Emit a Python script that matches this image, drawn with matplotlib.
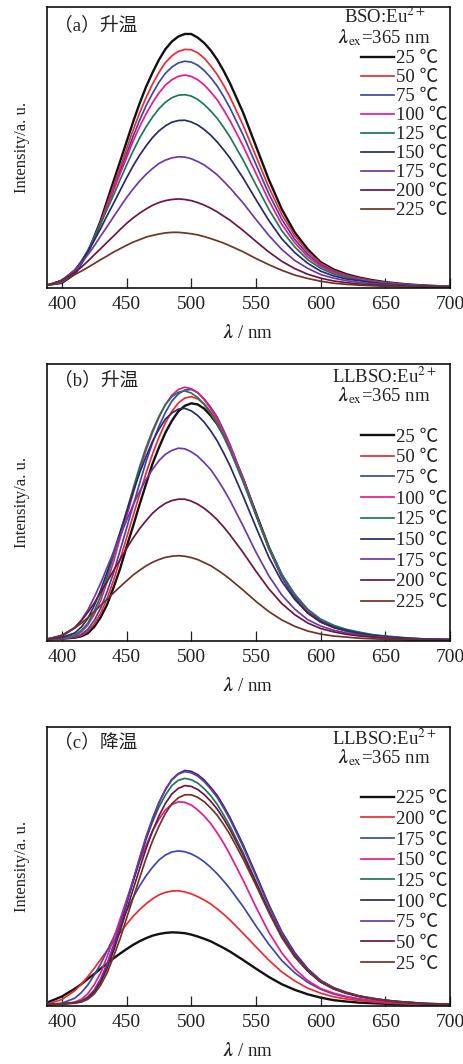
import matplotlib
matplotlib.use('Agg')
import matplotlib.pyplot as plt

plt.rcParams['font.family'] = ['Liberation Serif', 'Noto Sans CJK SC', 'DejaVu Sans']
plt.rcParams['mathtext.fontset'] = 'stix'

# ---------------- data ----------------
wavelength = [390, 400, 410, 415, 420, 425, 430, 435, 440, 445, 450, 455, 460, 465, 470, 475,
              480, 485, 490, 495, 500, 505, 510, 515, 520, 525, 530, 540, 550, 560, 570, 580,
              590, 600, 610, 620, 630, 640, 650, 660, 670, 680, 690, 700]

# (a) BSO:Eu2+, heating
a_25 = [1.2, 1.8, 5.0, 8.8, 12.5, 18.2, 24.0, 31.1, 38.1, 45.0, 52.0, 59.0, 65.6, 71.5, 76.6, 81.2, 85.0, 87.7, 89.5, 90.4, 90.4, 89.1, 87.2, 84.6, 81.3, 77.3, 72.8, 62.5, 50.5, 38.5, 28.0, 19.8, 13.8, 9.2, 6.6, 4.9, 3.7, 2.8, 2.1, 1.6, 1.2, 0.9, 0.7, 0.5]
a_50 = [1.1, 2.0, 5.4, 8.6, 12.6, 17.7, 23.4, 29.9, 36.4, 43.0, 49.5, 56.1, 62.2, 67.7, 72.5, 76.7, 80.2, 82.6, 84.2, 84.9, 84.8, 83.7, 81.8, 79.1, 76.0, 72.2, 67.9, 58.0, 46.9, 35.8, 26.1, 18.6, 12.9, 8.8, 6.2, 4.6, 3.5, 2.6, 2.0, 1.5, 1.1, 0.9, 0.7, 0.6]
a_75 = [1.1, 2.0, 5.4, 8.5, 12.4, 17.3, 22.8, 28.9, 35.2, 41.5, 47.7, 53.9, 59.6, 64.8, 69.2, 73.2, 76.4, 78.6, 80.1, 80.7, 80.4, 79.3, 77.4, 74.9, 71.9, 68.2, 64.0, 54.5, 44.0, 33.5, 24.4, 17.3, 12.0, 8.2, 5.8, 4.3, 3.3, 2.4, 1.9, 1.4, 1.1, 0.8, 0.6, 0.6]
a_100 = [1.1, 2.3, 5.9, 9.2, 13.0, 18.0, 23.1, 29.0, 34.8, 40.6, 46.3, 52.2, 57.3, 61.9, 65.9, 69.4, 72.2, 74.1, 75.3, 75.8, 75.3, 74.1, 72.3, 69.8, 67.0, 63.4, 59.5, 50.6, 40.8, 31.1, 22.6, 16.1, 11.1, 7.7, 5.5, 4.0, 3.1, 2.3, 1.7, 1.4, 1.0, 0.8, 0.6, 0.5]
a_125 = [1.1, 2.5, 6.4, 9.5, 13.4, 17.9, 22.9, 28.1, 33.1, 38.5, 43.7, 48.7, 53.3, 57.3, 60.8, 63.8, 66.1, 67.7, 68.6, 68.8, 68.3, 67.1, 65.3, 63.0, 60.4, 57.2, 53.7, 45.6, 36.7, 28.0, 20.4, 14.6, 10.1, 7.0, 5.0, 3.7, 2.8, 2.1, 1.6, 1.2, 1.0, 0.8, 0.6, 0.5]
a_150 = [1.1, 2.6, 6.4, 9.3, 12.9, 16.9, 21.2, 25.8, 30.2, 34.7, 39.2, 43.4, 47.2, 50.5, 53.5, 55.9, 57.7, 59.0, 59.6, 59.7, 59.1, 58.0, 56.4, 54.4, 52.0, 49.2, 46.2, 39.2, 31.5, 24.0, 17.5, 12.6, 8.8, 6.0, 4.3, 3.2, 2.6, 1.9, 1.4, 1.1, 0.8, 0.7, 0.5, 0.4]
a_175 = [1.1, 2.8, 6.4, 8.9, 11.8, 15.0, 18.5, 21.9, 25.4, 28.8, 32.2, 35.2, 38.0, 40.4, 42.5, 44.3, 45.5, 46.3, 46.7, 46.6, 46.0, 45.0, 43.8, 42.1, 40.3, 38.0, 35.6, 30.3, 24.4, 18.7, 13.7, 9.8, 7.0, 4.8, 3.5, 2.6, 2.0, 1.5, 1.2, 0.9, 0.7, 0.5, 0.4, 0.3]
a_200 = [1.1, 2.7, 5.5, 7.4, 9.5, 11.8, 14.0, 16.3, 18.5, 20.8, 23.0, 24.9, 26.6, 28.1, 29.4, 30.4, 31.1, 31.5, 31.7, 31.5, 31.1, 30.4, 29.5, 28.4, 27.1, 25.6, 24.1, 20.5, 16.6, 12.8, 9.5, 6.9, 4.9, 3.5, 2.5, 1.9, 1.4, 1.1, 0.9, 0.7, 0.5, 0.4, 0.3, 0.3]
a_225 = [1.2, 2.7, 4.8, 6.0, 7.3, 8.7, 10.1, 11.4, 12.8, 14.0, 15.2, 16.3, 17.2, 18.1, 18.7, 19.2, 19.6, 19.8, 19.8, 19.6, 19.3, 18.9, 18.3, 17.6, 16.8, 16.0, 15.0, 12.9, 10.5, 8.3, 6.3, 4.6, 3.4, 2.4, 1.7, 1.3, 1.0, 0.8, 0.6, 0.5, 0.4, 0.3, 0.2, 0.2]

# (b) LLBSO:Eu2+, heating
b_25 = [0.6, 0.8, 1.2, 1.7, 2.8, 5.1, 8.6, 13.2, 19.4, 26.1, 34.0, 41.4, 49.2, 56.6, 63.9, 69.8, 75.2, 79.5, 82.9, 84.9, 85.8, 85.4, 83.9, 81.4, 78.3, 74.4, 69.6, 58.7, 46.2, 33.9, 23.7, 16.0, 10.5, 7.0, 5.0, 3.7, 2.7, 1.9, 1.5, 1.0, 0.8, 0.6, 0.5, 0.4]
b_50 = [0.7, 0.8, 1.4, 2.0, 3.5, 6.1, 10.1, 15.4, 22.0, 29.5, 37.2, 45.1, 52.8, 60.5, 67.4, 73.5, 78.7, 82.9, 85.9, 87.7, 88.2, 87.4, 85.6, 82.8, 79.4, 75.1, 70.0, 58.5, 45.5, 33.3, 23.1, 15.5, 10.1, 6.8, 4.9, 3.6, 2.6, 1.9, 1.4, 1.1, 0.8, 0.6, 0.5, 0.4]
b_75 = [0.7, 0.9, 1.5, 2.4, 4.2, 7.4, 11.9, 17.8, 24.7, 32.7, 40.7, 48.8, 56.8, 64.6, 71.5, 77.5, 82.5, 86.6, 89.2, 90.6, 90.8, 89.7, 87.4, 84.4, 80.9, 76.1, 70.9, 58.9, 45.7, 33.3, 23.1, 15.5, 10.3, 6.9, 5.0, 3.7, 2.7, 2.0, 1.5, 1.1, 0.8, 0.6, 0.5, 0.5]
b_100 = [0.7, 1.0, 1.9, 3.3, 5.7, 9.6, 14.6, 21.4, 28.7, 37.1, 44.9, 53.1, 61.5, 68.8, 75.2, 80.7, 85.4, 88.7, 90.8, 91.6, 91.1, 89.6, 87.1, 83.9, 80.1, 75.4, 70.3, 58.5, 45.7, 33.7, 23.8, 16.7, 11.0, 7.5, 5.4, 4.0, 3.0, 2.2, 1.6, 1.3, 0.9, 0.7, 0.6, 0.5]
b_125 = [0.8, 1.1, 2.2, 3.8, 6.4, 10.8, 16.3, 23.2, 30.8, 38.9, 46.9, 54.9, 62.8, 69.8, 75.9, 81.1, 85.3, 88.2, 89.8, 90.3, 89.5, 87.9, 85.4, 82.1, 78.4, 73.8, 68.8, 57.5, 45.4, 33.7, 24.1, 16.9, 11.5, 7.9, 5.7, 4.2, 3.2, 2.3, 1.8, 1.4, 1.0, 0.8, 0.6, 0.5]
b_150 = [0.8, 1.3, 2.9, 5.0, 8.1, 12.8, 18.4, 24.9, 32.2, 39.3, 46.5, 53.7, 60.6, 66.5, 72.0, 76.4, 80.1, 82.3, 83.7, 84.0, 83.1, 81.4, 79.0, 75.9, 72.3, 67.9, 63.2, 52.4, 41.1, 30.2, 21.5, 15.0, 10.1, 7.0, 5.0, 3.8, 2.8, 2.0, 1.6, 1.2, 0.9, 0.7, 0.6, 0.5]
b_175 = [0.9, 1.7, 4.7, 7.5, 11.1, 15.8, 20.9, 26.6, 32.2, 37.9, 43.5, 49.1, 53.9, 58.3, 61.9, 65.1, 67.4, 68.8, 69.6, 69.4, 68.3, 66.7, 64.4, 61.9, 58.5, 54.8, 50.7, 41.6, 32.1, 23.5, 16.6, 11.5, 7.7, 5.4, 3.9, 2.9, 2.2, 1.6, 1.3, 0.9, 0.7, 0.6, 0.5, 0.4]
b_200 = [0.8, 1.9, 4.9, 7.3, 10.3, 13.7, 17.6, 21.5, 25.5, 29.4, 33.4, 37.1, 40.5, 43.4, 46.1, 48.1, 49.7, 50.7, 51.2, 51.2, 50.5, 49.4, 47.9, 46.0, 43.8, 41.2, 38.3, 32.0, 25.2, 18.8, 13.5, 9.5, 6.5, 4.5, 3.3, 2.4, 1.8, 1.4, 1.0, 0.8, 0.6, 0.5, 0.4, 0.3]
b_225 = [0.8, 2.1, 4.7, 6.4, 8.4, 10.6, 12.9, 15.1, 17.4, 19.6, 21.7, 23.8, 25.5, 27.1, 28.4, 29.4, 30.2, 30.6, 30.8, 30.6, 30.1, 29.4, 28.3, 27.2, 25.7, 24.1, 22.3, 18.4, 14.3, 10.6, 7.6, 5.3, 3.6, 2.5, 1.8, 1.4, 1.0, 0.8, 0.6, 0.5, 0.3, 0.3, 0.2, 0.2]

# (c) LLBSO:Eu2+, cooling
c_225 = [1.5, 3.4, 6.2, 7.8, 9.7, 11.5, 13.4, 15.2, 17.1, 18.8, 20.4, 21.9, 23.2, 24.3, 25.2, 25.8, 26.2, 26.4, 26.3, 26.1, 25.6, 24.9, 24.1, 23.2, 22.0, 20.8, 19.5, 16.5, 13.4, 10.4, 7.8, 5.8, 4.2, 3.0, 2.1, 1.6, 1.2, 1.0, 0.8, 0.6, 0.5, 0.4, 0.3, 0.2]
c_200 = [0.9, 2.3, 5.5, 7.8, 10.5, 13.5, 16.7, 19.9, 23.1, 26.3, 29.3, 32.1, 34.5, 36.6, 38.4, 39.8, 40.7, 41.2, 41.3, 40.9, 40.2, 39.2, 38.0, 36.6, 34.8, 32.9, 30.8, 26.1, 21.2, 16.4, 12.2, 9.0, 6.4, 4.6, 3.3, 2.5, 1.9, 1.5, 1.1, 0.9, 0.7, 0.5, 0.4, 0.3]
c_175 = [0.6, 1.0, 2.8, 4.8, 7.5, 11.1, 15.1, 19.8, 24.6, 29.4, 34.1, 38.8, 43.0, 46.6, 49.7, 52.3, 54.1, 55.2, 55.6, 55.3, 54.5, 53.3, 51.7, 49.7, 47.4, 44.8, 42.0, 35.7, 28.7, 22.1, 16.3, 11.9, 8.5, 6.0, 4.3, 3.2, 2.4, 1.9, 1.4, 1.1, 0.9, 0.7, 0.5, 0.4]
c_150 = [0.6, 0.8, 1.4, 2.4, 4.4, 7.6, 11.9, 17.7, 24.2, 31.1, 38.0, 44.9, 51.6, 57.5, 62.7, 66.9, 70.3, 72.2, 73.2, 73.0, 72.0, 70.3, 68.1, 65.4, 62.1, 58.4, 54.2, 45.2, 35.5, 26.4, 19.0, 13.3, 9.1, 6.3, 4.6, 3.4, 2.6, 1.9, 1.5, 1.2, 0.9, 0.7, 0.5, 0.5]
c_125 = [0.5, 0.8, 1.2, 1.8, 3.3, 5.7, 9.7, 15.2, 21.8, 29.2, 37.0, 44.6, 52.2, 59.6, 65.9, 71.3, 75.6, 79.0, 80.9, 81.6, 81.1, 79.9, 77.9, 75.4, 72.3, 68.5, 64.4, 55.0, 44.6, 34.1, 25.1, 17.9, 12.6, 8.6, 6.2, 4.6, 3.4, 2.6, 2.0, 1.6, 1.1, 0.9, 0.7, 0.6]
c_100 = [0.5, 0.8, 1.2, 1.7, 3.0, 5.3, 9.0, 14.4, 21.1, 28.7, 36.6, 44.6, 52.5, 60.2, 66.8, 72.8, 77.6, 81.2, 83.3, 84.4, 84.1, 82.9, 81.0, 78.4, 75.5, 71.7, 67.5, 57.9, 47.2, 36.3, 26.6, 19.1, 13.4, 9.2, 6.6, 4.9, 3.6, 2.8, 2.1, 1.6, 1.3, 0.9, 0.8, 0.6]
c_75 = [0.6, 0.8, 1.2, 1.8, 3.1, 5.5, 9.6, 15.0, 21.7, 29.3, 37.3, 45.1, 53.0, 60.6, 67.2, 72.9, 77.5, 81.0, 83.1, 84.0, 83.6, 82.4, 80.4, 77.8, 74.8, 71.0, 66.8, 57.1, 46.5, 35.6, 26.1, 18.6, 13.2, 9.1, 6.5, 4.8, 3.6, 2.7, 2.1, 1.6, 1.3, 0.9, 0.8, 0.6]
c_50 = [0.5, 0.7, 1.1, 1.6, 2.8, 5.0, 8.5, 13.5, 19.8, 26.9, 34.3, 41.7, 49.1, 56.3, 62.6, 68.1, 72.6, 76.0, 78.0, 79.0, 78.7, 77.6, 75.8, 73.4, 70.6, 67.1, 63.2, 54.2, 44.2, 34.0, 24.9, 17.9, 12.6, 8.6, 6.2, 4.6, 3.4, 2.6, 2.0, 1.5, 1.2, 0.9, 0.7, 0.6]
c_25 = [0.5, 0.7, 1.0, 1.4, 2.4, 4.3, 7.5, 11.9, 17.8, 24.1, 31.5, 38.6, 45.8, 52.8, 59.1, 64.4, 69.0, 72.5, 74.6, 75.7, 75.7, 74.8, 73.2, 71.0, 68.4, 65.1, 61.4, 52.8, 43.3, 33.5, 24.5, 17.6, 12.5, 8.6, 6.1, 4.5, 3.4, 2.6, 1.9, 1.4, 1.1, 0.8, 0.7, 0.5]

labels_heat = ['25 ℃', '50 ℃', '75 ℃', '100 ℃', '125 ℃', '150 ℃', '175 ℃', '200 ℃', '225 ℃']
labels_cool = ['225 ℃', '200 ℃', '175 ℃', '150 ℃', '125 ℃', '100 ℃', '75 ℃', '50 ℃', '25 ℃']
colors = ['#111111', '#ec2a30', '#3a48a6', '#ea1a8a', '#1f7656', '#272b66', '#6b3aa6', '#6a1646', '#6e3426']
xticks = [400, 450, 500, 550, 600, 650, 700]

panels = [
    dict(series=[a_25, a_50, a_75, a_100, a_125, a_150, a_175, a_200, a_225], labels=labels_heat,
         tag='（a）升温', host='BSO:Eu$^{2+}$', box=[47, 7, 450, 288],
         host_y=0.964, ex_y=0.89, tag_y=0.936, leg_top=0.847, leg_sp=0.10),
    dict(series=[b_25, b_50, b_75, b_100, b_125, b_150, b_175, b_200, b_225], labels=labels_heat,
         tag='（b）升温', host='LLBSO:Eu$^{2+}$', box=[47, 364, 450, 641],
         host_y=0.953, ex_y=0.884, tag_y=0.942, leg_top=0.767, leg_sp=0.19),
    dict(series=[c_225, c_200, c_175, c_150, c_125, c_100, c_75, c_50, c_25], labels=labels_cool,
         tag='（c）降温', host='LLBSO:Eu$^{2+}$', box=[47, 727, 450, 1006],
         host_y=0.958, ex_y=0.89, tag_y=0.947, leg_top=0.774, leg_sp=0.19),
]

W, H = 463, 1064
fig = plt.figure(figsize=(W / 100, H / 100), dpi=100)

for p in panels:
    x0, y0, x1, y1 = p['box']
    ax = fig.add_axes([x0 / W, 1 - y1 / H, (x1 - x0) / W, (y1 - y0) / H])
    for vals, lab, col in zip(p['series'], p['labels'], colors):
        lw = 1.7 if col == '#111111' else 1.25
        ax.plot(wavelength, vals, color=col, lw=lw, label=lab)
    ax.set_xlim(388.5, 700)
    ax.set_ylim(0, 100)
    ax.set_yticks([])
    ax.set_xticks(xticks)
    ax.tick_params(axis='x', direction='in', length=7, width=0.9, labelsize=14, pad=6,
                   colors='#222222', labelcolor='#222222')
    for s in ax.spines.values():
        s.set_linewidth(1.2)
        s.set_color('#111111')
    ax.set_ylabel('Intensity/a. u.', fontsize=12, labelpad=12, color='#222222')
    ax.set_xlabel(r'$\mathbfit{\lambda}$ / nm', fontsize=13.5, labelpad=8, color='#222222')
    ax.text(0.018, p['tag_y'], p['tag'], transform=ax.transAxes, fontsize=13.5, va='center',
            ha='left', color='#222222')
    ax.text(0.838, p['host_y'], p['host'], transform=ax.transAxes, fontsize=13.5, va='center',
            ha='center', color='#222222')
    ax.text(0.838, p['ex_y'], r'$\mathbfit{\lambda}_{\rm ex}$=365 nm', transform=ax.transAxes,
            fontsize=13.5, va='center', ha='center', color='#222222')
    leg = ax.legend(loc='upper right', bbox_to_anchor=(0.995, p['leg_top']), frameon=False,
                    fontsize=13.5, handlelength=1.8, handletextpad=0.1, labelspacing=p['leg_sp'],
                    borderpad=0, borderaxespad=0)
    for t in leg.get_texts():
        t.set_color('#222222')

fig.savefig('out.png', dpi=100)
